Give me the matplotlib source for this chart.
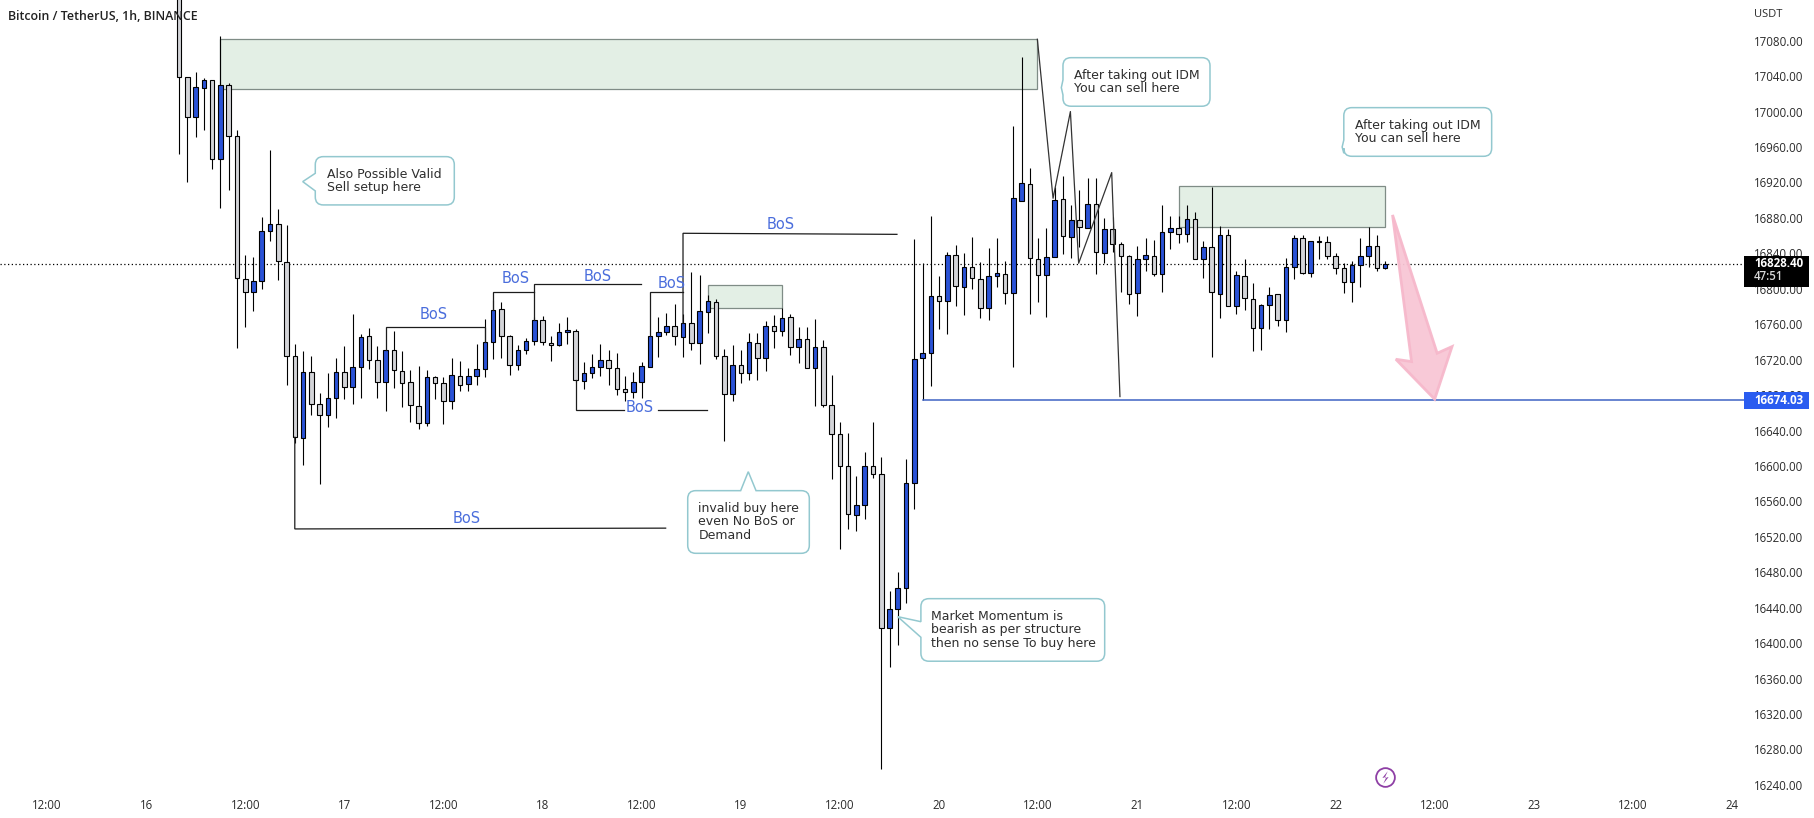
import matplotlib
matplotlib.use('Agg')
import matplotlib.pyplot as plt
import numpy as np
from matplotlib.path import Path
from matplotlib.patches import PathPatch, Polygon, Rectangle

# hourly candles, x = hours since the 15th 12:00
first_hour = 16
directions = ("dduu" "duddduuudd" "dudduuduud" "duddddudd" "u" "duuuudduuu" "dduuduuudd"
              "duuuuududu" "uddudududu" "dududddduu" "dduuuuuudu" "dudduuduud"
              "duudududud" "dduuduudud" "udududdu" "ud" "uuduuddduu" "udu")
highs = [17260.0, 17039.0, 17044.7, 17037.6,
         17035.3, 17085.4, 17032.0, 16979.3, 16837.8, 16835.6, 16880.7, 16956.3, 16889.7, 16871.7,
         16737.3, 16729.8, 16723.7, 16682.0, 16704.6, 16721.5, 16735.4, 16771.5, 16748.6, 16755.3,
         16735.4, 16730.5, 16752.3, 16729.8, 16708.3, 16712.5, 16708.3, 16701.2, 16700.0, 16721.5,
         16718.1, 16710.2, 16737.3, 16765.5, 16787.3, 16784.7, 16747.4, 16736.2, 16744.1, 16768.5,
         16768.9, 16746.3, 16761.0, 16767.8, 16754.2, 16717.0, 16726.0, 16737.3, 16730.5, 16727.1,
         16701.2, 16705.7, 16717.0, 16746.3, 16767.7, 16772.3, 16782.4, 16772.0, 16818.5, 16815.1,
         16793.0, 16788.1, 16731.6, 16736.2, 16730.5, 16749.7, 16749.7, 16763.2, 16770.0, 16777.9,
         16771.1, 16756.5, 16757.2, 16765.5, 16741.8, 16702.3, 16649.2, 16636.9, 16588.3, 16615.4,
         16649.3, 16609.8, 16458.6, 16480.0, 16607.5, 16856.2, 16828.7, 16882.0, 16814.0, 16841.1,
         16849.4, 16840.0, 16858.0, 16829.8, 16845.6, 16856.9, 16831.0, 16983.4, 17061.3, 16936.0,
         16857.0, 16868.3, 16915.3, 16927.3, 16894.2, 16911.2, 16924.7, 16924.7, 16879.5, 16880.7,
         16852.5, 16838.2, 16847.9, 16857.0, 16855.1, 16894.2, 16881.8, 16881.8, 16894.2, 16886.3,
         16853.6, 16915.3, 16871.3, 16867.1, 16819.7, 16833.3, 16806.2, 16782.5, 16801.7, 16793.8,
         16834.4, 16860.4, 16860.4, 16853.6, 16859.2, 16859.2, 16840.0, 16828.8, 16831.0, 16857.0,
         16869.4, 16860.4, 16831.0]
tops = [17210.0, 17038.7, 17027.4, 17035.3,
        17035.3, 17029.7, 17029.7, 16972.1, 16810.7, 16808.5, 16864.9, 16872.8, 16872.8, 16830.7,
        16723.7, 16705.7, 16705.7, 16669.6, 16676.4, 16705.7, 16705.7, 16711.3, 16745.2, 16746.3,
        16719.2, 16730.5, 16730.5, 16706.8, 16694.4, 16667.3, 16700.0, 16700.0, 16693.3, 16702.3,
        16701.2, 16701.2, 16709.1, 16739.6, 16775.7, 16776.8, 16746.3, 16730.5, 16740.7, 16764.4,
        16764.4, 16738.4, 16750.8, 16753.1, 16752.0, 16704.6, 16711.3, 16719.2, 16719.2, 16710.2,
        16686.5, 16694.4, 16712.5, 16746.3, 16750.8, 16757.6, 16757.6, 16761.0, 16761.0, 16774.5,
        16785.8, 16784.7, 16723.7, 16713.6, 16713.6, 16739.5, 16738.4, 16757.6, 16757.6, 16766.6,
        16767.7, 16742.9, 16742.9, 16733.9, 16733.9, 16668.5, 16635.8, 16599.6, 16555.6, 16599.6,
        16599.6, 16590.6, 16438.2, 16461.9, 16580.4, 16720.3, 16727.1, 16791.4, 16791.4, 16837.7,
        16837.7, 16824.2, 16824.2, 16810.6, 16814.0, 16817.4, 16816.3, 16902.1, 16919.0, 16917.9,
        16833.3, 16835.5, 16899.9, 16901.0, 16877.3, 16877.3, 16895.3, 16895.3, 16867.1, 16867.1,
        16850.2, 16836.7, 16833.3, 16837.8, 16836.7, 16863.8, 16868.3, 16868.3, 16878.4, 16878.4,
        16846.8, 16846.8, 16860.4, 16860.4, 16815.2, 16814.1, 16788.1, 16781.4, 16792.6, 16793.8,
        16824.2, 16857.0, 16857.0, 16853.6, 16853.6, 16852.5, 16836.7, 16823.1, 16826.5, 16836.7,
        16847.9, 16847.9, 16828.4]
bottoms = [17038.7, 16993.6, 16994.3, 17027.1,
           16946.2, 16946.2, 16972.1, 16811.9, 16796.1, 16796.8, 16808.5, 16864.9, 16831.1, 16723.8,
           16632.3, 16631.2, 16669.6, 16657.2, 16657.2, 16676.4, 16688.8, 16688.8, 16711.3, 16719.2,
           16694.4, 16694.4, 16707.9, 16693.3, 16668.4, 16648.1, 16648.1, 16693.3, 16673.0, 16673.0,
           16691.0, 16692.2, 16701.2, 16709.1, 16739.6, 16746.3, 16713.6, 16713.6, 16730.5, 16740.7,
           16739.6, 16736.2, 16736.2, 16750.8, 16696.7, 16695.5, 16704.6, 16711.3, 16710.2, 16686.5,
           16683.1, 16683.1, 16694.4, 16711.3, 16746.3, 16750.8, 16746.3, 16745.9, 16738.4, 16738.4,
           16773.4, 16723.7, 16680.9, 16680.9, 16705.3, 16705.3, 16721.5, 16721.5, 16751.9, 16751.9,
           16733.9, 16733.9, 16710.2, 16710.2, 16668.4, 16635.8, 16599.6, 16545.5, 16544.3, 16555.6,
           16590.6, 16416.8, 16416.8, 16438.2, 16461.9, 16580.4, 16721.5, 16727.1, 16785.8, 16785.8,
           16802.7, 16801.6, 16811.8, 16777.9, 16777.9, 16814.0, 16794.8, 16794.9, 16898.7, 16834.4,
           16815.2, 16815.2, 16835.5, 16859.2, 16858.1, 16869.4, 16868.3, 16841.2, 16840.0, 16850.2,
           16836.7, 16793.8, 16794.9, 16833.3, 16816.3, 16816.3, 16863.8, 16861.5, 16861.5, 16833.3,
           16833.3, 16796.0, 16793.8, 16780.2, 16780.2, 16789.3, 16755.4, 16755.4, 16781.4, 16764.4,
           16764.4, 16824.2, 16817.5, 16817.5, 16852.5, 16836.7, 16823.1, 16807.3, 16807.3, 16826.5,
           16836.7, 16823.1, 16823.1]
lows = [16951.8, 16920.2, 16971.0, 16979.3,
        16935.6, 16890.9, 16911.2, 16732.9, 16757.3, 16775.4, 16799.5, 16854.4, 16809.6, 16691.1,
        16625.6, 16600.7, 16657.9, 16580.0, 16644.4, 16654.5, 16676.0, 16670.3, 16677.1, 16709.1,
        16677.1, 16662.4, 16688.4, 16667.0, 16649.6, 16642.1, 16645.5, 16676.0, 16647.8, 16664.7,
        16685.0, 16685.0, 16691.8, 16700.8, 16720.4, 16722.2, 16703.1, 16708.7, 16726.0, 16736.2,
        16736.2, 16718.9, 16735.0, 16738.0, 16695.2, 16687.3, 16698.9, 16701.6, 16691.8, 16680.5,
        16673.7, 16677.1, 16677.1, 16711.3, 16723.4, 16747.4, 16736.9, 16723.4, 16730.9, 16715.5,
        16749.7, 16720.4, 16627.8, 16673.7, 16694.0, 16697.4, 16697.4, 16707.6, 16733.5, 16747.1,
        16725.6, 16716.6, 16710.2, 16667.3, 16666.2, 16585.0, 16506.0, 16528.5, 16526.3, 16539.8,
        16586.1, 16257.7, 16373.5, 16397.6, 16445.0, 16551.1, 16674.1, 16689.9, 16754.2, 16748.6,
        16780.9, 16770.0, 16799.4, 16766.6, 16764.4, 16801.6, 16782.4, 16711.4, 16898.7, 16771.2,
        16784.8, 16767.8, 16835.5, 16838.9, 16834.4, 16847.6, 16868.3, 16816.3, 16828.8, 16841.2,
        16796.0, 16782.5, 16768.9, 16819.7, 16814.5, 16796.0, 16845.3, 16852.1, 16853.2, 16833.3,
        16811.8, 16723.4, 16766.7, 16780.2, 16771.2, 16775.7, 16729.4, 16730.6, 16754.3, 16757.7,
        16750.9, 16810.7, 16816.3, 16813.0, 16833.3, 16833.3, 16816.3, 16794.9, 16784.8, 16801.7,
        16824.2, 16819.7, 16822.0]

x_tick_pos = list(range(0, 205, 12))
x_tick_labels = ['12:00', '16', '12:00', '17', '12:00', '18', '12:00', '19', '12:00', '20',
                 '12:00', '21', '12:00', '22', '12:00', '23', '12:00', '24']
y_ticks = list(range(16240, 17081, 40))

last_price = 16828.40
countdown = '47:51'
level_price = 16674.03

# drawings on the chart
zones = [(21, 119.9, 17025.2, 17081.6), (80, 89, 16777.9, 16803.9), (137, 162, 16869.4, 16915.7)]
bos_lines = [
    [(41, 16730.5), (41, 16757.3), (53, 16757.3), (53, 16739.6)],
    [(54, 16775.7), (54, 16796.8), (59, 16796.8)],
    [(59, 16764.4), (59, 16805.1), (71.9, 16805.1)],
    [(73, 16746.3), (73, 16796.0), (77, 16796.0)],
    [(77, 16761.0), (77, 16862.6), (102.9, 16861.4)],
    [(30, 16632.3), (30, 16528.9), (74.9, 16529.8)],
    [(64, 16696.7), (64, 16662.8), (69.8, 16662.8)],
    [(74, 16662.8), (79.9, 16662.8)],
]
bos_labels = [(46.8, 16770.9), (56.7, 16811.9), (66.7, 16813.9), (75.6, 16805.4),
              (88.8, 16872.0), (50.8, 16540.5), (71.7, 16665.8)]
zigzag = [(119.9, 17081.6), (121.8, 16902.1), (123.9, 17000.0), (124.9, 16828.8),
          (128.9, 16931.1), (129.9, 16678.3)]
arrow = [(162.9, 16883.3), (168.3, 16727.2), (170.1, 16734.7), (168.0, 16675.3),
         (163.3, 16720.4), (165.2, 16717.8)]

note_texts = ['Also Possible Valid\nSell setup here',
              'invalid buy here\neven No BoS or\nDemand',
              'Market Momentum is\nbearish as per structure\nthen no sense To buy here',
              'After taking out IDM\nYou can sell here',
              'After taking out IDM\nYou can sell here']
note_boxes = [(32.48, 49.31, 16949.1, 16894.6), (77.57, 92.29, 16572.1, 16501.4),
              (105.8, 128.05, 16450.2, 16379.6), (123.0, 140.8, 17060.8, 17006.0),
              (157.0, 174.9, 17004.4, 16949.5)]
note_sides = ['left', 'top', 'left', 'left', 'left']
note_tips = [(30.96, 16920.9), (84.9, 16593.5), (102.99, 16429.9), (122.8, 17027.0), (156.8, 16960.0)]
note_bases = [(16910.4, 16930.3), (83.98, 85.84), (16406.6, 16424.2), (17018.7, 17035.7), (16953.0, 16967.9)]
note_text_x = [33.86, 78.85, 107.0, 124.3, 158.3]

UP = '#2a52d6'
DOWN = '#d3d4d8'
LEVEL = '#3f63c4'
LABEL_BLUE = '#4a6ddc'
TEXT = '#2e2e2e'
FONT = ['Open Sans', 'DejaVu Sans']

plt.rcParams['font.family'] = FONT
fig = plt.figure(figsize=(18.14, 8.18), dpi=100)
ax = fig.add_axes([0, 23 / 818, 1744 / 1814, 795 / 818])
ax.set_xlim(-5.69, 205.45)
ax.set_ylim(16228.6, 17125.9)
for s in ax.spines.values():
    s.set_visible(False)

hours = first_hour + np.arange(len(highs))
tops_a = np.array(tops)
bottoms_a = np.array(bottoms)
is_up = np.array([c == 'u' for c in directions])
colors = np.where(is_up, UP, DOWN)

ax.axhline(last_price, color='black', lw=0.9, ls=(0, (1, 2)), zorder=1.5)
for x0, x1, y0, y1 in zones:
    ax.add_patch(Rectangle((x0, y0), x1 - x0, y1 - y0, fc='#e3efe5', ec='#7f8c86', lw=0.9, zorder=1))

ax.vlines(hours, lows, highs, color='black', lw=0.8, zorder=2)
ax.bar(hours, tops_a - bottoms_a, bottom=bottoms_a, width=0.55, color=colors.tolist(),
       edgecolor='black', linewidth=0.8, zorder=3)

for line in bos_lines:
    xs, ys = zip(*line)
    ax.plot(xs, ys, color='#1c1c1c', lw=0.9, zorder=4, solid_joinstyle='miter')
for x, y in bos_labels:
    ax.text(x, y, 'BoS', color=LABEL_BLUE, fontsize=10.5, family=['DejaVu Sans'],
            ha='center', va='center', zorder=6)

xs, ys = zip(*zigzag)
ax.plot(xs, ys, color='#333333', lw=0.9, zorder=4)
ax.plot([106, 205.45], [level_price, level_price], color=LEVEL, lw=1.1, zorder=4)
ax.add_patch(Polygon(arrow, closed=True, fc='#f8c6d5', ec='#f6b8cb', lw=2, alpha=0.95, zorder=5))


def note_path(box, side, tip, base):
    x0, x1, top, bot = box
    rx, ry = 8 / 8.26, 8 * 1.1287
    v = [(x0 + rx, top)]
    c = [Path.MOVETO]
    if side == 'top':
        v += [(base[0], top), tip, (base[1], top)]
        c += [Path.LINETO] * 3
    v += [(x1 - rx, top), (x1, top), (x1, top - ry), (x1, bot + ry), (x1, bot), (x1 - rx, bot),
          (x0 + rx, bot), (x0, bot), (x0, bot + ry)]
    c += [Path.LINETO, Path.CURVE3, Path.CURVE3, Path.LINETO, Path.CURVE3, Path.CURVE3,
          Path.LINETO, Path.CURVE3, Path.CURVE3]
    if side == 'left':
        v += [(x0, base[0]), tip, (x0, base[1])]
        c += [Path.LINETO] * 3
    v += [(x0, top - ry), (x0, top), (x0 + rx, top), (x0 + rx, top)]
    c += [Path.LINETO, Path.CURVE3, Path.CURVE3, Path.CLOSEPOLY]
    return Path(v, c)


for text, box, side, tip, base, tx in zip(note_texts, note_boxes, note_sides, note_tips, note_bases, note_text_x):
    ax.add_patch(PathPatch(note_path(box, side, tip, base), fc='white', ec='#93c8cf', lw=1.1, zorder=6))
    ax.text(tx, (box[2] + box[3]) / 2, text, color=TEXT, fontsize=9.0, family=['DejaVu Sans'],
            ha='left', va='center', linespacing=1.02, zorder=7)

# lightning badge
bolt = Path([(0.25, 0.7), (-0.35, -0.05), (0.1, 0.05), (-0.25, -0.7), (0.35, 0.05), (-0.1, -0.05), (0.25, 0.7)],
            closed=True)
ax.plot([162], [16248.6], 'o', ms=13.5, mfc='white', mec='#8e3fa5', mew=1.3, zorder=6)
ax.plot([162], [16248.6], marker=bolt, ms=9, mfc='#8e3fa5', mec='none', zorder=7)

ax.set_xticks(x_tick_pos)
ax.set_xticklabels(x_tick_labels)
ax.yaxis.tick_right()
ax.set_yticks(y_ticks)
ax.set_yticklabels([f'{t:.2f}' for t in y_ticks])
ax.tick_params(axis='x', length=0, pad=3, labelsize=8.3, labelcolor='#2b2b2b')
ax.tick_params(axis='y', length=0, pad=7.2, labelsize=8.3, labelcolor='#2b2b2b')

# price axis boxes
tr = ax.get_yaxis_transform()
box_w = 65 / 1744
ax.add_patch(Rectangle((1, 16802.0), box_w, 34.8, transform=tr, fc='black', ec='none', clip_on=False, zorder=8))
ax.add_patch(Rectangle((1, 16664.3), box_w, 19.2, transform=tr, fc='#2a5cf0', ec='none', clip_on=False, zorder=8))
ax.text(1 + 10 / 1744, 16828.4, f'{last_price:.2f}', transform=tr, color='white', fontsize=8.3, weight='bold',
        va='center', ha='left', clip_on=False, zorder=9)
ax.text(1 + 10 / 1744, 16813.6, countdown, transform=tr, color='#d8d8d8', fontsize=8.3, weight='semibold',
        va='center', ha='left', clip_on=False, zorder=9)
ax.text(1 + 10 / 1744, level_price, f'{level_price:.2f}', transform=tr, color='white', fontsize=8.3, weight='bold',
        va='center', ha='left', clip_on=False, zorder=9)
ax.text(1 + 10 / 1744, 17109.0, 'USDT', transform=tr, color='#2b2b2b', fontsize=8.0,
        va='center', ha='left', clip_on=False, zorder=9)

ax.text(8 / 1744, 1 - 16.5 / 795, 'Bitcoin / TetherUS, 1h, BINANCE', transform=ax.transAxes, color='#222222',
        fontsize=8.9, weight='semibold', va='center', ha='left', zorder=9)

plt.savefig('out.png', dpi=100)
